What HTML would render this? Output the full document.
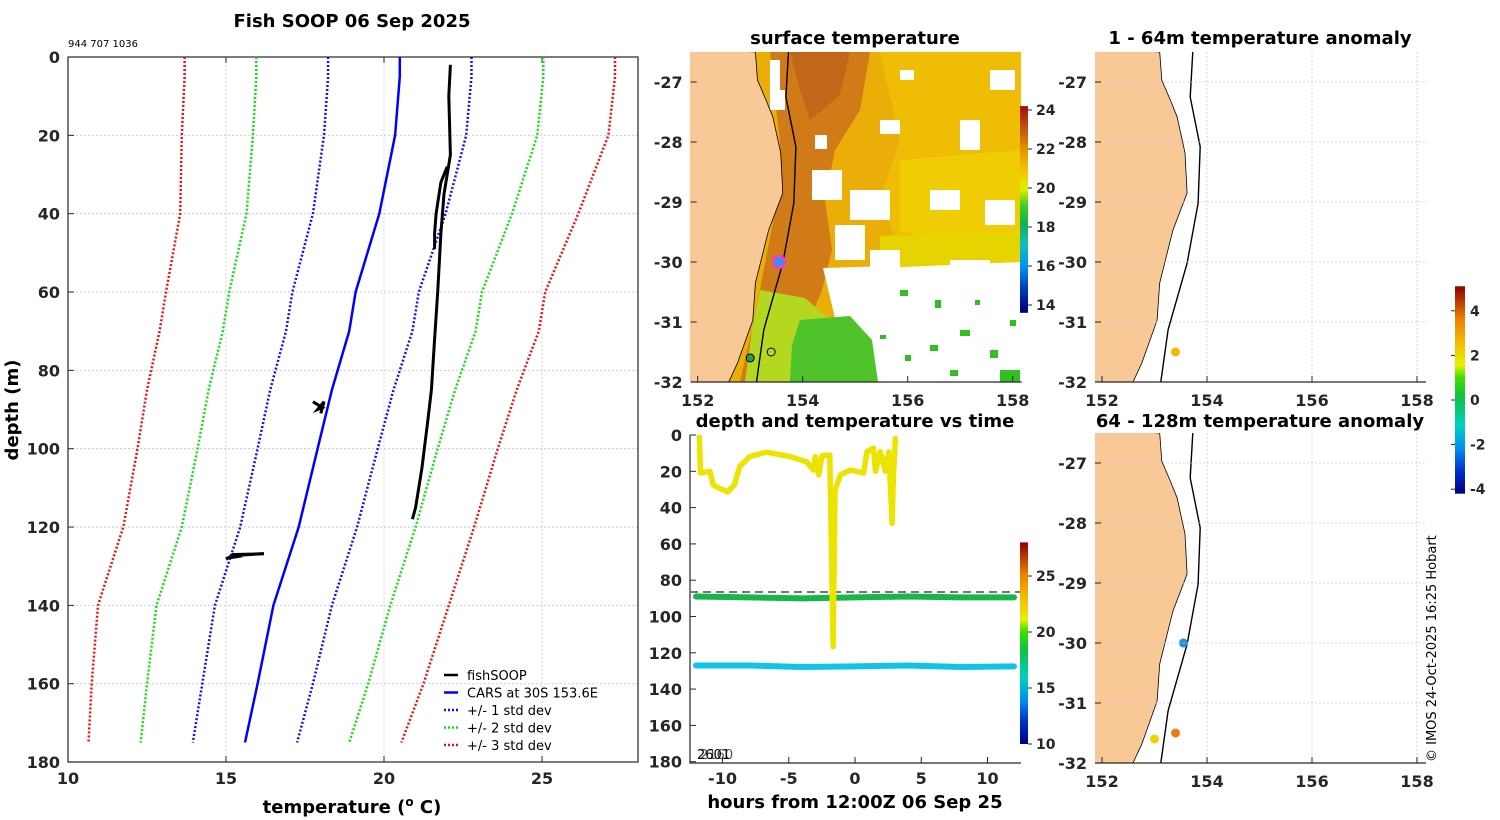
<!DOCTYPE html>
<html><head><meta charset="utf-8">
<style>
html,body{margin:0;padding:0;background:#fff;width:1500px;height:820px;overflow:hidden}
svg{display:block}
text{font-family:"DejaVu Sans","Liberation Sans",sans-serif;fill:#262626}
.tk{font-size:16px;font-weight:bold}
.tt{font-size:18px;font-weight:bold;fill:#000}
.cb{font-size:14px;font-weight:bold}
.lg{font-size:13px;fill:#000}
</style></head>
<body>
<svg id="fig" width="1500" height="820" viewBox="0 0 1500 820" xmlns="http://www.w3.org/2000/svg">
<defs>
 <clipPath id="cL"><rect x="68" y="57" width="570" height="705"/></clipPath>
 <clipPath id="cM"><rect x="690" y="52" width="331" height="330"/></clipPath>
 <clipPath id="cT"><rect x="690" y="435" width="331" height="328"/></clipPath>
 <clipPath id="cR1"><rect x="1095" y="52" width="331" height="330"/></clipPath>
 <clipPath id="cR2"><rect x="1095" y="433" width="331" height="330"/></clipPath>
 <linearGradient id="gSST" x1="0" y1="1" x2="0" y2="0">
  <stop offset="0" stop-color="#000070"/><stop offset="0.1" stop-color="#0030b0"/>
  <stop offset="0.22" stop-color="#0090f0"/><stop offset="0.33" stop-color="#10c0c0"/>
  <stop offset="0.43" stop-color="#10b050"/><stop offset="0.52" stop-color="#40d020"/>
  <stop offset="0.6" stop-color="#e0f000"/><stop offset="0.7" stop-color="#f0c000"/>
  <stop offset="0.8" stop-color="#e09000"/><stop offset="0.9" stop-color="#c05010"/>
  <stop offset="1" stop-color="#a01000"/>
 </linearGradient>
 <linearGradient id="gJet" x1="0" y1="1" x2="0" y2="0">
  <stop offset="0" stop-color="#000080"/><stop offset="0.11" stop-color="#0030d0"/>
  <stop offset="0.22" stop-color="#0090f0"/><stop offset="0.33" stop-color="#00d0c0"/>
  <stop offset="0.47" stop-color="#10c040"/><stop offset="0.56" stop-color="#40e000"/>
  <stop offset="0.62" stop-color="#e8f000"/><stop offset="0.72" stop-color="#f0c000"/>
  <stop offset="0.84" stop-color="#f08000"/><stop offset="1" stop-color="#900000"/>
 </linearGradient>
</defs>
<g id="left"></g>
<g id="sst"></g>
<g id="tvt"></g>
<g id="an1"></g>
<g id="an2"></g>
<text x="352" y="27" text-anchor="middle" class="tt">Fish SOOP 06 Sep 2025</text>
<text x="68" y="47" style="font-size:10px;fill:#000">944 707 1036</text>
<text x="855" y="44" text-anchor="middle" class="tt">surface temperature</text>
<text x="855" y="427" text-anchor="middle" class="tt">depth and temperature vs time</text>
<text x="1260" y="44" text-anchor="middle" class="tt">1 - 64m temperature anomaly</text>
<text x="1260" y="427" text-anchor="middle" class="tt">64 - 128m temperature anomaly</text>
<text x="352" y="813" text-anchor="middle" class="tt">temperature (<tspan dy="-7" style="font-size:12px">o</tspan><tspan dy="7"> C)</tspan></text>
<text transform="translate(18,410) rotate(-90)" text-anchor="middle" class="tt">depth (m)</text>
<text x="855" y="808" text-anchor="middle" class="tt">hours from 12:00Z 06 Sep 25</text>
<text transform="translate(1436,762) rotate(-90)" style="font-size:13px;fill:#000">© IMOS 24-Oct-2025 16:25 Hobart</text>
</svg>
<script>
// ---------- left profile data ----------
const profDepths=[0,5,20,40,60,70,85,100,120,140,160,175];
const carsMean=[20.5,20.5,20.35,19.85,19.1,18.9,18.35,17.9,17.3,16.5,16.0,15.6];
const carsStd=[2.27,2.27,2.25,2.1,2.0,2.0,1.95,1.9,1.85,1.85,1.75,1.65];
const fishTemp=[22.1,22.05,22.1,22.0,21.9,21.8,21.7,21.6,21.5,21.4,21.2,21.0,20.9];
const fishDepth=[2,10,25,30,35,45,60,72,85,92,105,115,118];
const fishBranchT=[22.0,21.8,21.65,21.6,21.6];
const fishBranchD=[28,32,40,45,49];
const blob1T=[17.75,18.05,17.9,18.1,18.0];
const blob1D=[88,89.5,90,88,91];
const blob2T=[15.0,15.4,15.3,16.2,15.2,15.0];
const blob2D=[128,127.5,127,126.8,127.3,128.2];
const xTicksL=[10,15,20,25];
const yTicksL=[0,20,40,60,80,100,120,140,160,180];

// ---------- depth vs time data ----------
const trackHours=[-11.75,-11.65,-10.95,-10.7,-10.2,-9.6,-9.1,-8.7,-7.95,-6.7,-4.9,-3.65,-3.15,-3.0,-2.75,-2.5,-1.9,-1.65,-1.5,-1.1,-0.35,0.65,0.9,1.4,1.55,1.9,2.3,2.55,2.8,2.9,3.05];
const trackDepth=[0.9,21,20,27.5,29.5,31.3,27.5,17.4,11.9,9.5,11.9,14.7,19.3,11.9,22,11.5,11,116.6,30.3,22,19.3,21,9.2,7.3,20,9.2,20,9.2,48.7,23,2];
const bandHours=[-12,-8,-4,0,4,8,12];
const band1Depth=[89,89.5,90,89.5,89,89.5,89.5];
const band2Depth=[127,127,127.8,127.5,127,127.8,127.5];
const dashedDepth=86.5;
const xTicksT=[-10,-5,0,5,10];
const yTicksT=[0,20,40,60,80,100,120,140,160,180];

// ---------- map data ----------
const coastLon=[153.10,153.14,153.30,153.43,153.58,153.62,153.35,153.10,153.05,152.76,152.59];
const coastLat=[-26.5,-26.97,-27.3,-27.58,-28.18,-28.85,-29.47,-30.35,-30.97,-31.68,-32.0];
const isoLon=[153.73,153.68,153.87,153.83,153.62,153.26,153.12];
const isoLat=[-26.5,-27.25,-28.08,-29.02,-30.02,-31.13,-32.0];
const lonTicks=[152,154,156,158];
const latTicks=[-27,-28,-29,-30,-31,-32];
const anom1Lon=[153.4], anom1Lat=[-31.5], anom1Col=['#f5b800'];
const anom2Lon=[153.55,153.0,153.4], anom2Lat=[-30.0,-31.6,-31.5], anom2Col=['#2090e0','#f0d000','#ee7a10'];

const NS='http://www.w3.org/2000/svg';
function mk(parent,tag,attrs,name,text){const e=document.createElementNS(NS,tag);for(const k in attrs)e.setAttribute(k,attrs[k]);
 
 
 if(text!==undefined)e.textContent=text;parent.appendChild(e);return e;}
const pts=(xs,ys,fx,fy)=>xs.map((v,i)=>fx(v).toFixed(1)+','+fy(ys[i]).toFixed(1)).join(' ');

// ===== left chart =====
(function(){
 const g=document.getElementById('left');
 const X=t=>68+(t-10)*31.6, Y=d=>57+d*3.917;
 yTicksL.forEach(d=>{ if(d>0&&d<180) mk(g,'line',{x1:68,x2:638,y1:Y(d),y2:Y(d),stroke:'#b8c0e0','stroke-width':0.8,'stroke-dasharray':'2 2'},'grid-h');
  mk(g,'text',{x:60,y:Y(d)+6,'text-anchor':'end',class:'tk'},'y-tick-label',String(d));
  mk(g,'line',{x1:68,x2:74,y1:Y(d),y2:Y(d),stroke:'#262626'},'y-tick');});
 xTicksL.forEach(t=>{ if(t>10) mk(g,'line',{x1:X(t),x2:X(t),y1:57,y2:762,stroke:'#c0c8e8','stroke-width':0.8,'stroke-dasharray':'2 2'},'grid-v');
  mk(g,'text',{x:X(t),y:784,'text-anchor':'middle',class:'tk'},'x-tick-label',String(t));
  mk(g,'line',{x1:X(t),x2:X(t),y1:762,y2:756,stroke:'#262626'},'x-tick');mk(g,'line',{x1:X(t),x2:X(t),y1:57,y2:63,stroke:'#262626'},'x-tick-top');});
 mk(g,'rect',{x:68,y:57,width:570,height:705,fill:'none',stroke:'#262626','stroke-width':1.2},'plot-box');
 const c=mk(g,'g',{'clip-path':'url(#cL)'},'plot-area');
 const cols=['#1010ee','#10e010','#ee1010'];
 [1,2,3].forEach((k,ki)=>{[-1,1].forEach(s=>{
  mk(c,'polyline',{points:pts(carsMean.map((m,i)=>m+s*k*carsStd[i]),profDepths,X,Y),fill:'none',stroke:cols[ki],'stroke-width':2.5,'stroke-dasharray':'2 2'},'std-line-'+k);});});
 mk(c,'polyline',{points:pts(carsMean,profDepths,X,Y),fill:'none',stroke:'#0000ff','stroke-width':2.5},'cars-mean-line');
 mk(c,'polyline',{points:pts(fishTemp,fishDepth,X,Y),fill:'none',stroke:'#000','stroke-width':3},'fishsoop-line');
 mk(c,'polyline',{points:pts(fishBranchT,fishBranchD,X,Y),fill:'none',stroke:'#000','stroke-width':3},'fishsoop-branch');
 mk(c,'polyline',{points:pts(blob1T,blob1D,X,Y),fill:'none',stroke:'#000','stroke-width':3},'fishsoop-segment');
 mk(c,'polyline',{points:pts(blob2T,blob2D,X,Y),fill:'none',stroke:'#000','stroke-width':3},'fishsoop-segment');
 // legend
 const lg=mk(g,'g',{},'legend');
 const items=[['fishSOOP','#000',''],['CARS at 30S 153.6E','#0000ff',''],['+/- 1 std dev','#1010ee','2 2'],['+/- 2 std dev','#10e010','2 2'],['+/- 3 std dev','#ee1010','2 2']];
 items.forEach((it,i)=>{const y=675+i*17.5;
  mk(lg,'line',{x1:444,x2:458,y1:y,y2:y,stroke:it[1],'stroke-width':2.5,'stroke-dasharray':it[2]||'none'},'legend-swatch');
  mk(lg,'text',{x:467,y:y+5,class:'lg'},'legend-entry',it[0]);});
})();

// ===== map helper =====
function drawMap(g,x0,yTop,clip,fillFn){
 const X=l=>x0+(l-152)*52.5, Y=la=>yTop+30+(-27-la)*60;
 const c=mk(g,'g',{'clip-path':'url('+clip+')'},'map-area');
 if(fillFn)fillFn(c,X,Y);
 // land
 const land='690,'+(yTop-5)+' '+pts(coastLon,coastLat,X,Y)+' 690,'+(yTop+340);
 mk(c,'polygon',{points:land.replace(/^690/,(x0-20)).replace(/ 690,/,' '+(x0-20)+','),fill:'#f8c896',stroke:'#000','stroke-width':0.8},'land');
 mk(c,'polyline',{points:pts(isoLon,isoLat,X,Y),fill:'none',stroke:'#000','stroke-width':1.4},'isobath-line');
 lonTicks.forEach(l=>{ if(!fillFn&&l>152) mk(g,'line',{x1:X(l),x2:X(l),y1:yTop,y2:yTop+330,stroke:'#c8cce8','stroke-width':0.8,'stroke-dasharray':'2 2'},'grid-lon');
  mk(g,'line',{x1:X(l),x2:X(l),y1:yTop+330,y2:yTop+324,stroke:'#262626'},'lon-tick');
  mk(g,'text',{x:X(l),y:yTop+354,'text-anchor':'middle',class:'tk'},'lon-tick-label',String(l));});
 latTicks.forEach(la=>{ if(!fillFn&&la>-32) mk(g,'line',{x1:x0-7,x2:x0+323,y1:Y(la),y2:Y(la),stroke:'#c8cce8','stroke-width':0.8,'stroke-dasharray':'2 2'},'grid-lat');
  mk(g,'line',{x1:x0-7,x2:x0-1,y1:Y(la),y2:Y(la),stroke:'#262626'},'lat-tick');
  mk(g,'text',{x:x0-15,y:Y(la)+6,'text-anchor':'end',class:'tk'},'lat-tick-label',String(la));});
 mk(g,'line',{x1:x0-7,x2:x0+324,y1:yTop+330,y2:yTop+330,stroke:'#262626','stroke-width':1.2},'x-axis-line');
 return {X,Y,c};
}

// ===== SST map =====
(function(){
 const g=document.getElementById('sst');
 const m=drawMap(g,697.7,52,'#cM',function(c){
  mk(c,'rect',{x:690,y:52,width:331,height:330,fill:'#ebad08'},'sst-base');
  mk(c,'polygon',{points:'880,52 1021,52 1021,330 940,305 900,250 880,200 900,140',fill:'#efbd06'},'sst-yellow');
  mk(c,'polygon',{points:'900,160 1021,150 1021,240 960,250 900,230',fill:'#f0cc04'},'sst-yellow2');
  mk(c,'polygon',{points:'760,52 870,52 860,110 835,150 825,200 832,250 822,290 805,330 790,382 740,382 752,330 765,263 778,197 780,143 770,52',fill:'#d07a18'},'sst-warm-band');
  mk(c,'polygon',{points:'790,52 850,52 840,95 810,120 800,90',fill:'#c2661a'},'sst-hot');
  mk(c,'polygon',{points:'823,268 1021,262 1021,382 872,382 862,340 835,318',fill:'#fff'},'sst-cloud');
  mk(c,'polygon',{points:'880,236 1021,232 1021,262 880,268',fill:'#e6d400'},'sst-yellow3');
  mk(c,'polygon',{points:'760,290 805,298 830,320 805,382 745,382 752,330',fill:'#b4d820'},'sst-cool');
  mk(c,'polygon',{points:'800,320 850,316 872,340 878,382 790,382 792,345',fill:'#4ec42a'},'sst-green');
  const wh=[[812,170,30,30],[850,190,40,30],[835,225,30,35],[880,120,20,14],[930,190,30,20],[960,120,20,30],[990,70,25,20],[900,70,14,10],[815,135,12,14],[950,260,40,6],[770,60,10,40],[770,90,15,20],[870,250,30,18],[985,200,30,25]];
  wh.forEach(r=>mk(c,'rect',{x:r[0],y:r[1],width:r[2],height:r[3],fill:'#fff'},'sst-gap'));
  const gr=[[900,290,8,6],[935,300,6,8],[930,345,8,6],[960,330,10,6],[990,350,8,8],[1000,370,20,12],[950,370,8,6],[905,355,6,6],[975,300,5,5],[880,335,6,4],[1010,320,6,6]];
  gr.forEach(r=>mk(c,'rect',{x:r[0],y:r[1],width:r[2],height:r[3],fill:'#30c020'},'sst-green-patch'));
 });
 mk(m.c,'circle',{cx:m.X(153.55),cy:m.Y(-30.0),r:5.5,fill:'#20a0e0',stroke:'#e040e0','stroke-width':3},'ship-position');
 mk(m.c,'circle',{cx:m.X(153.0),cy:m.Y(-31.6),r:4,fill:'#20a050',stroke:'#000','stroke-width':1},'station-marker');
 mk(m.c,'circle',{cx:m.X(153.4),cy:m.Y(-31.5),r:4,fill:'none',stroke:'#000','stroke-width':1},'station-marker-open');
 const cbT=[24,22,20,18,16,14];
 const CY=v=>110+(24-v)*19.5;
 mk(g,'rect',{x:1020,y:CY(24.2),width:8,height:CY(13.6)-CY(24.2),fill:'url(#gSST)'},'sst-colorbar');
 cbT.forEach(v=>{mk(g,'line',{x1:1028,x2:1032,y1:CY(v),y2:CY(v),stroke:'#262626'},'colorbar-tick');
  mk(g,'text',{x:1036,y:CY(v)+5,class:'cb'},'colorbar-label',String(v));});
})();

// ===== depth vs time =====
(function(){
 const g=document.getElementById('tvt');
 const X=h=>855+h*13.25, Y=d=>435+d*1.815;
 yTicksT.forEach(d=>{mk(g,'line',{x1:690,x2:696,y1:Y(d),y2:Y(d),stroke:'#262626'},'y-tick');
  mk(g,'text',{x:682,y:Y(d)+6,'text-anchor':'end',class:'tk'},'y-tick-label',String(d));});
 xTicksT.forEach(h=>{mk(g,'line',{x1:X(h),x2:X(h),y1:763,y2:757,stroke:'#262626'},'x-tick');
  mk(g,'text',{x:X(h),y:784,'text-anchor':'middle',class:'tk'},'x-tick-label',String(h));});
 mk(g,'polyline',{points:'690,435 690,763 1021,763',fill:'none',stroke:'#262626','stroke-width':1.2},'axes-lines');
 const c=mk(g,'g',{'clip-path':'url(#cT)'},'plot-area');
 mk(c,'line',{x1:690,x2:1021,y1:Y(dashedDepth),y2:Y(dashedDepth),stroke:'#777','stroke-width':2,'stroke-dasharray':'8 5'},'bottom-depth-line');
 mk(c,'polyline',{points:pts(bandHours,band1Depth,X,Y),fill:'none',stroke:'#18b648','stroke-width':6,'stroke-linecap':'round'},'sensor-band-upper');
 mk(c,'polyline',{points:pts(bandHours,band2Depth,X,Y),fill:'none',stroke:'#10c4e8','stroke-width':6,'stroke-linecap':'round'},'sensor-band-lower');
 mk(c,'polyline',{points:pts(trackHours,trackDepth,X,Y),fill:'none',stroke:'#ece400','stroke-width':5.5,'stroke-linejoin':'round','stroke-linecap':'round'},'surface-sensor-track');
 mk(g,'text',{x:697,y:759,style:'font-size:13px;fill:#000'},'cast-label','2601');
 mk(g,'text',{x:700,y:759,style:'font-size:13px;fill:#000;opacity:.7'},'cast-label-2','2160');
 const cbT=[25,20,15,10];
 const CY=v=>744+(10-v)*11.2;
 mk(g,'rect',{x:1020,y:CY(28),width:8,height:CY(10)-CY(28),fill:'url(#gJet)'},'time-colorbar');
 cbT.forEach(v=>{mk(g,'line',{x1:1028,x2:1032,y1:CY(v),y2:CY(v),stroke:'#262626'},'colorbar-tick');
  mk(g,'text',{x:1036,y:CY(v)+5,class:'cb'},'colorbar-label',String(v));});
})();

// ===== anomaly maps =====
(function(){
 const g1=document.getElementById('an1');
 const m1=drawMap(g1,1102,52,'#cR1',null);
 anom1Lon.forEach((l,i)=>mk(m1.c,'circle',{cx:m1.X(l),cy:m1.Y(anom1Lat[i]),r:4.5,fill:anom1Col[i]},'anomaly-point'));
 const g2=document.getElementById('an2');
 const m2=drawMap(g2,1102,433,'#cR2',null);
 anom2Lon.forEach((l,i)=>mk(m2.c,'circle',{cx:m2.X(l),cy:m2.Y(anom2Lat[i]),r:4.5,fill:anom2Col[i]},'anomaly-point'));
 const cbT=[4,2,0,-2,-4];
 const CY=v=>400-v*22.3;
 mk(g1,'rect',{x:1455,y:CY(5.1),width:10,height:CY(-4.2)-CY(5.1),fill:'url(#gJet)'},'anomaly-colorbar');
 cbT.forEach(v=>{mk(g1,'line',{x1:1451,x2:1455,y1:CY(v),y2:CY(v),stroke:'#262626'},'colorbar-tick');
  mk(g1,'text',{x:1470,y:CY(v)+5,class:'cb'},'colorbar-label',String(v));});
})();
</script>
</body></html>
